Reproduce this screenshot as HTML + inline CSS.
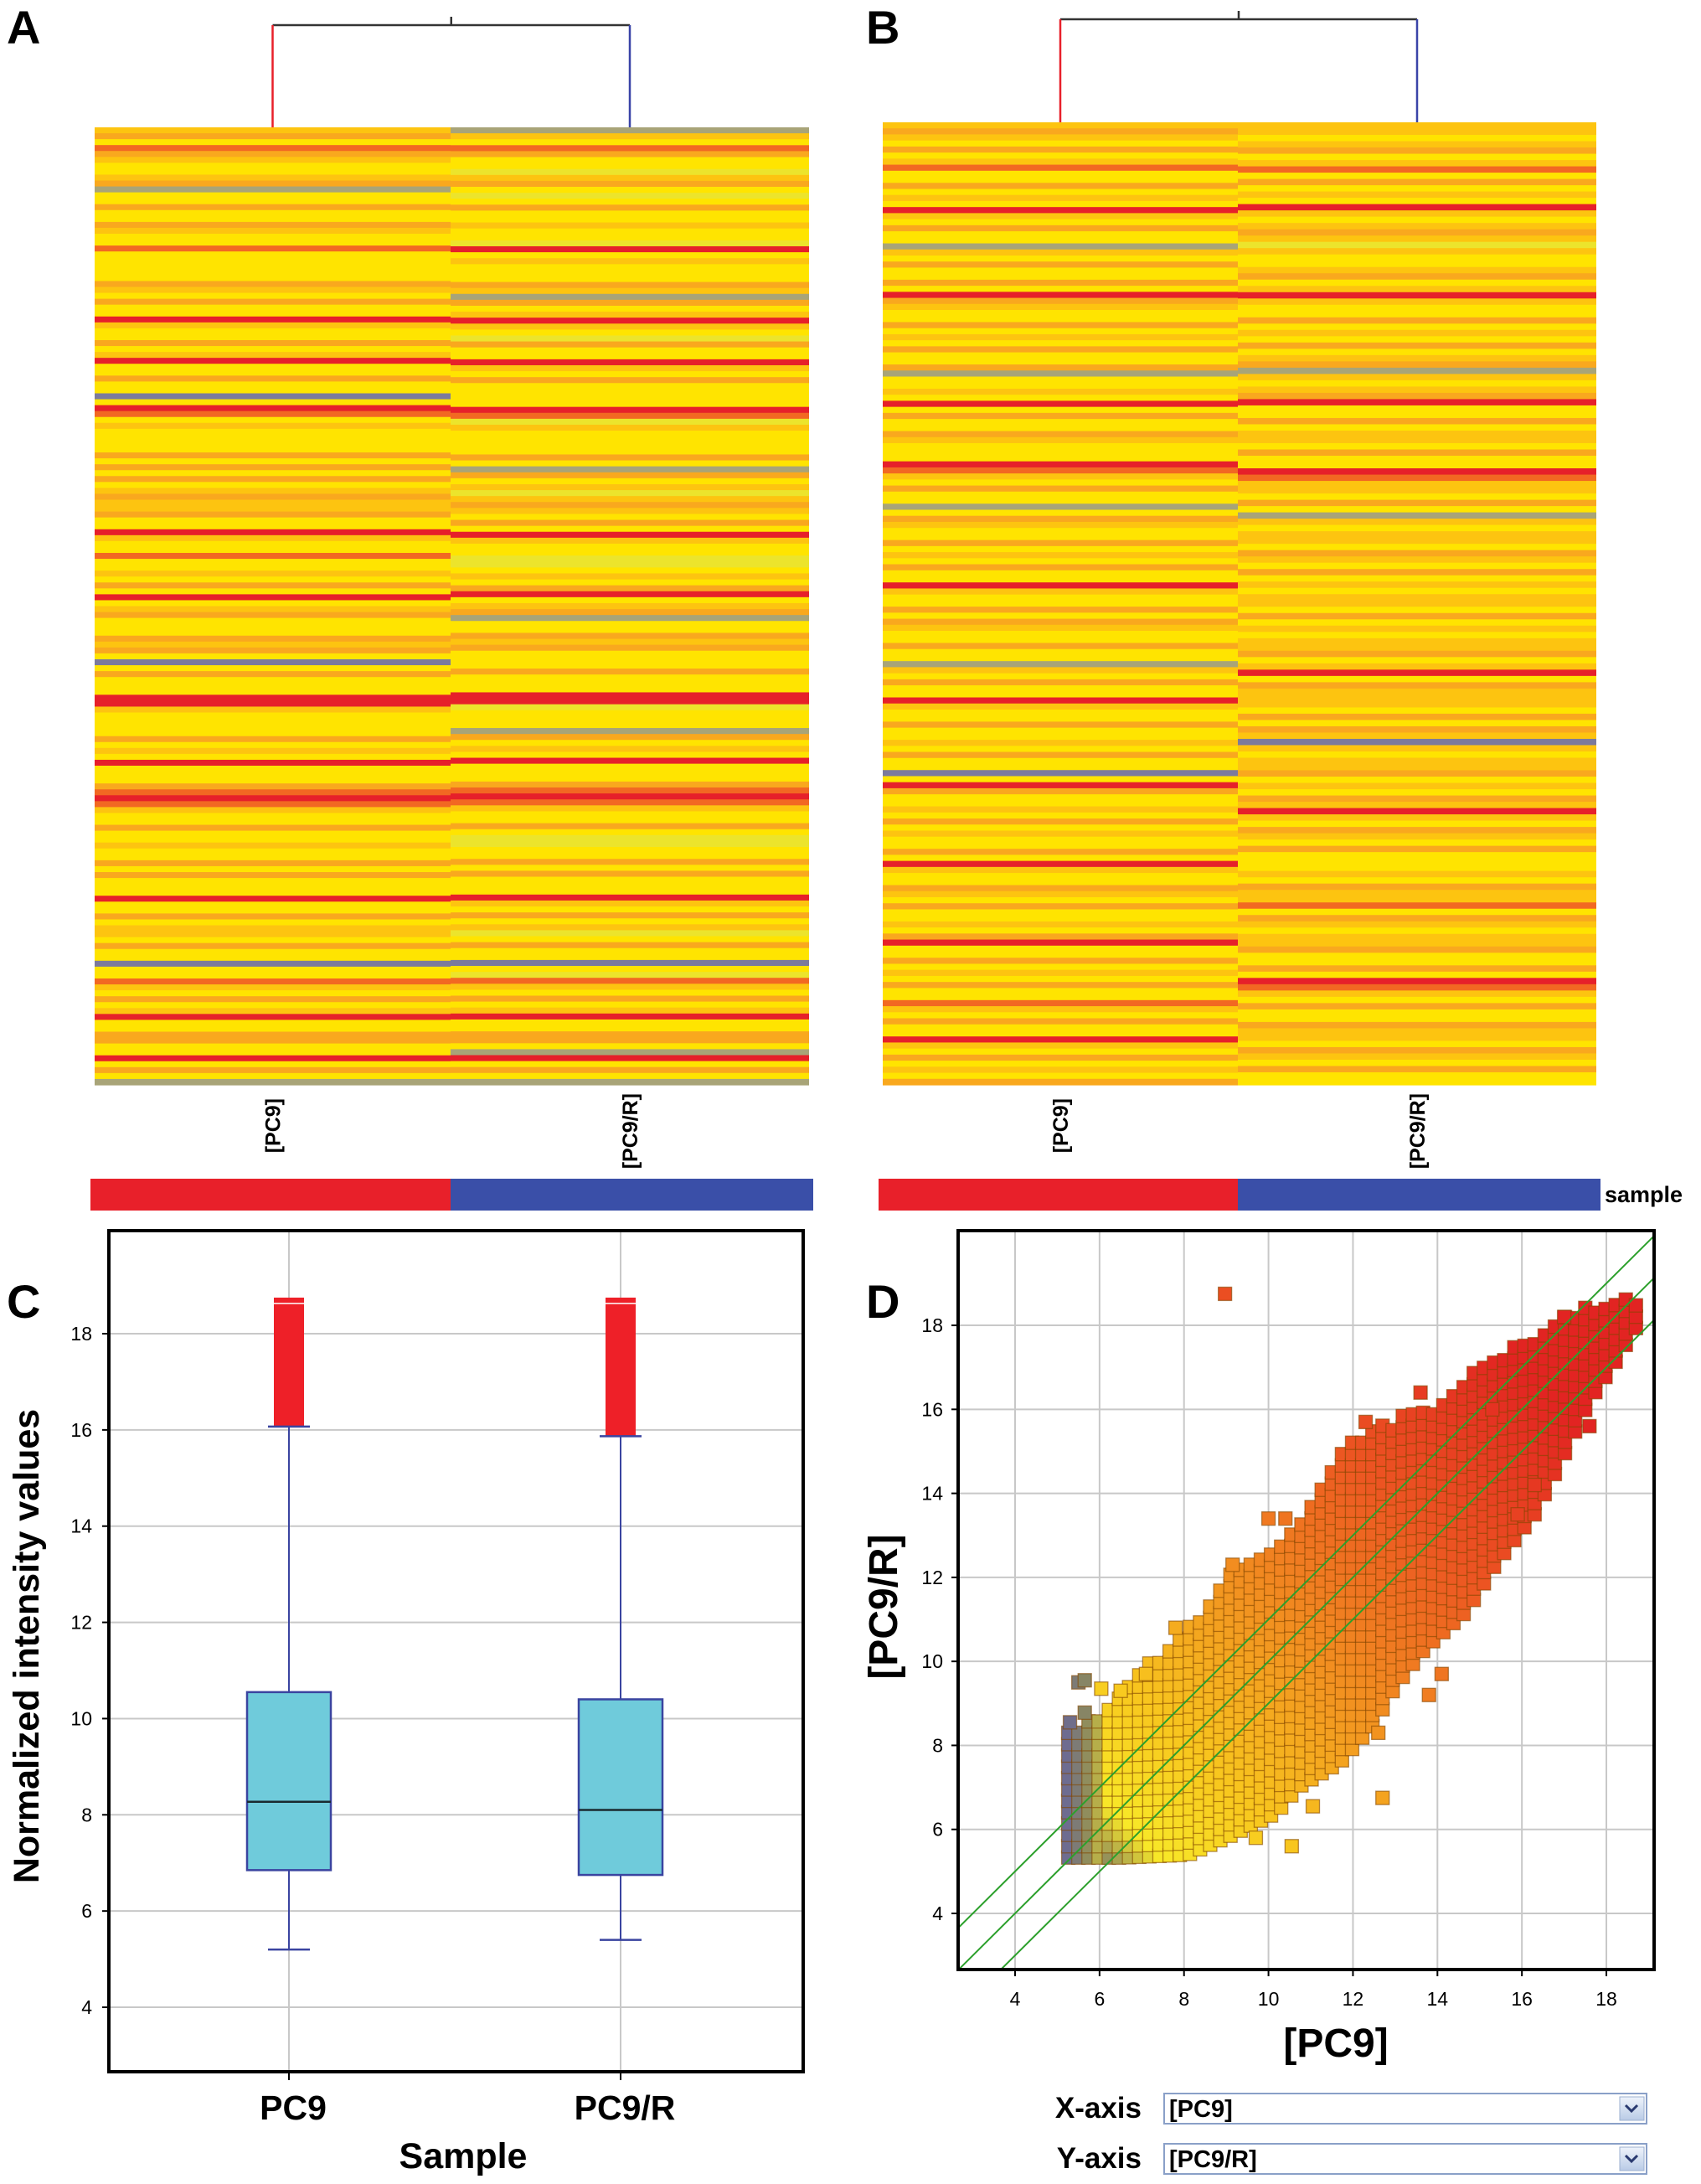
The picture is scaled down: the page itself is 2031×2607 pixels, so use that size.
<!DOCTYPE html>
<html><head><meta charset="utf-8"><style>
body{margin:0;background:#fff;}
svg{display:block;font-family:"Liberation Sans",sans-serif;}
</style></head><body>
<svg id="fig" width="2031" height="2607" viewBox="0 0 2031 2607">
<defs>
<clipPath id="clipD"><rect x="1144" y="1469" width="831" height="882"/></clipPath>
<linearGradient id="btn" x1="0" y1="0" x2="0" y2="1"><stop offset="0" stop-color="#eef3fb"/><stop offset="1" stop-color="#b9cbe6"/></linearGradient>
</defs>
<g id="panelA"></g>
<g id="panelB"></g>
<g id="panelC"></g>
<g id="panelD"></g>
</svg>
<script>
// ---------- Heatmap data (row color codes, top to bottom) ----------
const heatA_PC9  = "goydogyygokyyoyyogyydyyyyyogyoyyrgyyoygryyoyybyrdygyyyyoyoyoygoggoyyrgyydyygyoyrygoyyyogoybyoyyyrrgyyyyoygyryyyodrdgyyoyygyyoyoyyyryyoyggyoyybyydgyoygryyooyyryoyk";
const heatA_PC9R = "kgydoyylgoylyoyygyylrygyyyogkoygrgyloyyrgyoyyyyrdlgyyyyoykoyglgogyoyrgyyllygyorygokyyogoyyyoyyyrrlyyykoygyryyyodrdgyyoyllyyoyoyyyrgyoyglyoyybyldgyoygryyooykryoyk";
const heatB_PC9  = "gogyoygdyyoygyrgyoyykgyoyyoyrogyyoygyoyyokyygyryoyyogyyyrdgyoyykyogyyoygyoyyrgyyoyogyyoyykgyoyyrgyyoyygyoyybyroyygyoygyyoyrgyyogyoyygyoryyoygyoyydgyoyyrgyoygyo";
const heatB_PC9R = "ggygoygdyoygyrgygoglgyygoygrgyyoygyoygokgygoryyoyggyoyyrdggyoykgyggyogyoygyggyoygyggoygryogggyoyogbgyggoygyogrgyogyoyyygyoggdyogyggoyyoyrdgyoyyoggyogyoyy";
const heatCodes  = ["y","l","g","o","d","r","k","b"];
const heatColors = ["#ffe400","#ece42c","#fdc410","#f9a81e","#f26822","#e6202a","#a8a478","#7c7a9c"];

// ---------- Boxplot data ----------
const boxCategories = ["PC9","PC9/R"];
const boxLowWhisker = [5.2, 5.4];
const boxQ1 = [6.85, 6.75];
const boxMedian = [8.27, 8.1];
const boxQ3 = [10.55, 10.4];
const boxHighWhisker = [16.07, 15.87];
const boxMaxOutlier = [18.75, 18.75];
const boxYTicks = [4,6,8,10,12,14,16,18];

// ---------- Scatter data ----------
const envX     = [5.26,6.04,6.8,7.6,8.4,9.1,9.9,10.7,11.2,11.7,12.5,13.3,14.05,14.7,15.6,16.4,17.2,18.2,18.9];
const envUpper = [8.36,8.8,9.7,10.3,11.2,12.1,12.65,13.2,14.1,15.0,15.6,15.9,16.2,16.8,17.4,17.8,18.4,18.7,18.7];
const envLowX  = [5.26,6.55,8.1,9.1,10.2,10.7,11.7,12.5,13.0,13.7,14.7,15.4,16.3,16.9,17.6,18.2,18.9];
const envLower = [5.33,5.33,5.4,5.85,6.4,7.0,7.6,8.5,9.4,10.3,11.2,12.35,13.5,14.7,16.2,17.1,18.27];
const outX = [8.97,17.0,17.6,12.7,13.8,14.1,5.3,5.5,5.65,6.04,5.65,9.15,10.0,10.4,10.55,11.05,9.7,12.6,12.3,16.3,15.9,7.1,6.5,7.8,13.6,15.3];
const outY = [18.75,18.2,15.6,6.75,9.2,9.7,8.55,9.5,9.55,9.35,8.78,12.3,13.4,13.4,5.6,6.55,5.8,8.3,15.7,14.2,13.5,9.7,9.3,10.8,16.4,16.0];
const dXTicks = [4,6,8,10,12,14,16,18];
const dYTicks = [4,6,8,10,12,14,16,18];
const foldLines = [-1,0,1];

const NS="http://www.w3.org/2000/svg";
function mk(parent,tag,attrs,text){const e=document.createElementNS(NS,tag);for(const k in attrs)e.setAttribute(k,attrs[k]);if(text!==undefined)e.textContent=text;parent.appendChild(e);return e;}

// ---------- Heatmaps ----------
function heatPanel(gid,letter,x0,x1,xm,y0,y1,dendY,colA,colB,showSample,lx){
  const g=document.getElementById(gid);
  const t=mk(g,"text",{x:lx,y:52,"font-size":56,"font-weight":"bold"},letter);
  
  
  const cols=[[colA,x0,xm],[colB,xm,x1]];
  cols.forEach(([s,a,b],ci)=>{
    const h=(y1-y0)/s.length;
    for(let i=0;i<s.length;i++){
      const c=heatColors[heatCodes.indexOf(s[i])];
      const r=mk(g,"rect",{x:a,y:y0+i*h,width:b-a,height:h+0.6,fill:c});
      
      
    }
  });
  const c1=(x0+xm)/2,c2=(xm+x1)/2,cm=(c1+c2)/2;
  const d=mk(g,"g",{});
  
  
  mk(d,"line",{x1:c1,y1:dendY,x2:c2,y2:dendY,stroke:"#333","stroke-width":2.5});
  mk(d,"line",{x1:cm,y1:dendY-10,x2:cm,y2:dendY,stroke:"#333","stroke-width":2.5});
  mk(d,"line",{x1:c1,y1:dendY,x2:c1,y2:y0,stroke:"#e8202a","stroke-width":2.5});
  mk(d,"line",{x1:c2,y1:dendY,x2:c2,y2:y0,stroke:"#3a44a8","stroke-width":2.5});
  const l1=mk(g,"text",{x:0,y:0,"font-size":25,"font-weight":"bold","text-anchor":"end",transform:`translate(${c1+9},${y1+16}) rotate(-90)`},"[PC9]");
  
  
  const l2=mk(g,"text",{x:0,y:0,"font-size":25,"font-weight":"bold","text-anchor":"end",transform:`translate(${c2+9},${y1+10}) rotate(-90)`},"[PC9/R]");
  
  
  const b1=mk(g,"rect",{x:x0-5,y:1407,width:xm-x0+5,height:38,fill:"#e8202a"});
  
  
  const b2=mk(g,"rect",{x:xm,y:1407,width:x1-xm+5,height:38,fill:"#3a4fa8"});
  
  
  if(showSample){
    const s=mk(g,"text",{x:1916,y:1435,"font-size":27,"font-weight":"bold"},"sample");
    
    
  }
}
heatPanel("panelA","A",113,966,538,152,1295,30,heatA_PC9,heatA_PC9R,false,8);
heatPanel("panelB","B",1054,1906,1478,146,1295,23,heatB_PC9,heatB_PC9R,true,1034);

// ---------- Boxplot ----------
(function(){
  const g=document.getElementById("panelC");
  const L=130,R=959,T=1469,B=2473;
  const yS=v=>1592+(18-v)*57.43;
  const xS=i=>345+i*396;
  boxYTicks.forEach(v=>{
    const l=mk(g,"line",{x1:L,x2:R,y1:yS(v),y2:yS(v),stroke:"#c8c8c8","stroke-width":2});
    
    
    mk(g,"line",{x1:L-8,x2:L,y1:yS(v),y2:yS(v),stroke:"#000","stroke-width":2});
    const t=mk(g,"text",{x:L-20,y:yS(v)+8,"font-size":23,"text-anchor":"end"},String(v));
    
    
  });
  boxCategories.forEach((c,i)=>{
    const x=xS(i);
    mk(g,"line",{x1:x,x2:x,y1:T,y2:B,stroke:"#c8c8c8","stroke-width":2});
    mk(g,"line",{x1:x,x2:x,y1:B,y2:B+10,stroke:"#000","stroke-width":2});
    const grp=mk(g,"g",{});
    
    
    mk(grp,"line",{x1:x,x2:x,y1:yS(boxHighWhisker[i]),y2:yS(boxLowWhisker[i]),stroke:"#3a44a0","stroke-width":2});
    mk(grp,"line",{x1:x-25,x2:x+25,y1:yS(boxLowWhisker[i]),y2:yS(boxLowWhisker[i]),stroke:"#3a44a0","stroke-width":2.5});
    mk(grp,"rect",{x:x-18,y:yS(boxMaxOutlier[i]),width:36,height:yS(boxHighWhisker[i])-yS(boxMaxOutlier[i]),fill:"#ee2028"});
    mk(grp,"line",{x1:x-18,x2:x+18,y1:yS(boxMaxOutlier[i])+7,y2:yS(boxMaxOutlier[i])+7,stroke:"#fff","stroke-width":1.5});
    mk(grp,"line",{x1:x-25,x2:x+25,y1:yS(boxHighWhisker[i]),y2:yS(boxHighWhisker[i]),stroke:"#3a44a0","stroke-width":2.5});
    mk(grp,"rect",{x:x-50,y:yS(boxQ3[i]),width:100,height:yS(boxQ1[i])-yS(boxQ3[i]),fill:"#6fcbdb",stroke:"#3a44a0","stroke-width":2.5});
    mk(grp,"line",{x1:x-50,x2:x+50,y1:yS(boxMedian[i]),y2:yS(boxMedian[i]),stroke:"#1a2a30","stroke-width":2.5});
    const t=mk(g,"text",{x:x+5,y:2530,"font-size":41,"font-weight":"bold","text-anchor":"middle"},c);
    
    
  });
  const f=mk(g,"rect",{x:L,y:T,width:R-L,height:B-T,fill:"none",stroke:"#000","stroke-width":4});
  
  
  const xt=mk(g,"text",{x:553,y:2588,"font-size":43,"font-weight":"bold","text-anchor":"middle"},"Sample");
  
  
  const yt=mk(g,"text",{x:0,y:0,"font-size":43,"font-weight":"bold","text-anchor":"middle",transform:"translate(46,1965) rotate(-90)"},"Normalized intensity values");
  
  
  const pl=mk(g,"text",{x:8,y:1573,"font-size":56,"font-weight":"bold"},"C");
  
  
})();

// ---------- Scatter ----------
(function(){
  const g=document.getElementById("panelD");
  const L=1144,R=1975,T=1469,B=2351;
  const xS=v=>1212+(v-4)*50.43;
  const yS=v=>2284-(v-4)*50.14;
  dXTicks.forEach(v=>{
    mk(g,"line",{x1:xS(v),x2:xS(v),y1:T,y2:B,stroke:"#c8c8c8","stroke-width":2});
    mk(g,"line",{x1:xS(v),x2:xS(v),y1:B,y2:B+8,stroke:"#000","stroke-width":2});
    const t=mk(g,"text",{x:xS(v),y:2394,"font-size":23,"text-anchor":"middle"},String(v));
    
    
  });
  dYTicks.forEach(v=>{
    mk(g,"line",{x1:L,x2:R,y1:yS(v),y2:yS(v),stroke:"#c8c8c8","stroke-width":2});
    mk(g,"line",{x1:L-8,x2:L,y1:yS(v),y2:yS(v),stroke:"#000","stroke-width":2});
    const t=mk(g,"text",{x:L-18,y:yS(v)+8,"font-size":23,"text-anchor":"end"},String(v));
    
    
  });
  const interp=(xs,ys,x)=>{if(x<=xs[0])return ys[0];for(let i=1;i<xs.length;i++){if(x<=xs[i]){const f=(x-xs[i-1])/(xs[i]-xs[i-1]);return ys[i-1]+f*(ys[i]-ys[i-1]);}}return ys[ys.length-1];};
  const stops=[[5.2,[106,104,150]],[5.7,[138,136,96]],[6.4,[248,232,40]],[8.0,[248,200,30]],[10.5,[242,146,32]],[13.5,[236,84,34]],[16.5,[226,36,34]]];
  const col=v=>{if(v<=stops[0][0])return `rgb(${stops[0][1]})`;for(let i=1;i<stops.length;i++){if(v<=stops[i][0]){const f=(v-stops[i-1][0])/(stops[i][0]-stops[i-1][0]);const c=stops[i-1][1].map((a,k)=>Math.round(a+f*(stops[i][1][k]-a)));return `rgb(${c})`;}}return `rgb(${stops[stops.length-1][1]})`;};
  const pts=mk(g,"g",{"clip-path":"url(#clipD)"});
  
  
  const sq=(x,y)=>{
    const cv=x<6?x:(x+y)/2;
    const c=col(cv);
    const r=mk(pts,"rect",{x:xS(x)-8,y:yS(y)-8,width:16,height:16,fill:c,stroke:"rgba(130,70,0,0.6)","stroke-width":1.3});
    
    
  };
  for(let x=envX[0];x<=envX[envX.length-1];x+=0.24){
    const lo=interp(envLowX,envLower,x),hi=interp(envX,envUpper,x);
    for(let y=lo;y<=hi;y+=0.27){sq(x,y);}
  }
  outX.forEach((x,i)=>sq(x,outY[i]));
  foldLines.forEach(o=>{
    const l=mk(g,"line",{x1:xS(2.6),y1:yS(2.6+o),x2:xS(19.3),y2:yS(19.3+o),stroke:"#2ca02c","stroke-width":2,"clip-path":"url(#clipD)"});
    
    
  });
  const f=mk(g,"rect",{x:L,y:T,width:R-L,height:B-T,fill:"none",stroke:"#000","stroke-width":4});
  
  
  const xt=mk(g,"text",{x:1595,y:2455,"font-size":48,"font-weight":"bold","text-anchor":"middle"},"[PC9]");
  
  
  const yt=mk(g,"text",{x:0,y:0,"font-size":48,"font-weight":"bold","text-anchor":"middle",transform:"translate(1071,1918) rotate(-90)"},"[PC9/R]");
  
  
  const pl=mk(g,"text",{x:1034,y:1573,"font-size":56,"font-weight":"bold"},"D");
  
  
  [["X-axis","[PC9]",2499],["Y-axis","[PC9/R]",2559]].forEach(([lab,val,y],i)=>{
    const t=mk(g,"text",{x:1363,y:y+29,"font-size":35,"font-weight":"bold","text-anchor":"end"},lab);
    
    
    const sel=mk(g,"g",{});
    
    
    mk(sel,"rect",{x:1390,y:y,width:576,height:36,fill:"#fff",stroke:"#8aa0c8","stroke-width":2});
    mk(sel,"text",{x:1396,y:y+28,"font-size":29,"font-weight":"bold"},val);
    mk(sel,"rect",{x:1934,y:y+4,width:29,height:28,fill:"url(#btn)",stroke:"#9db0d0","stroke-width":1});
    mk(sel,"path",{d:`M1941 ${y+14} l7 7 l7 -7`,fill:"none",stroke:"#2a3a70","stroke-width":3});
  });
})();
</script>
</body></html>
